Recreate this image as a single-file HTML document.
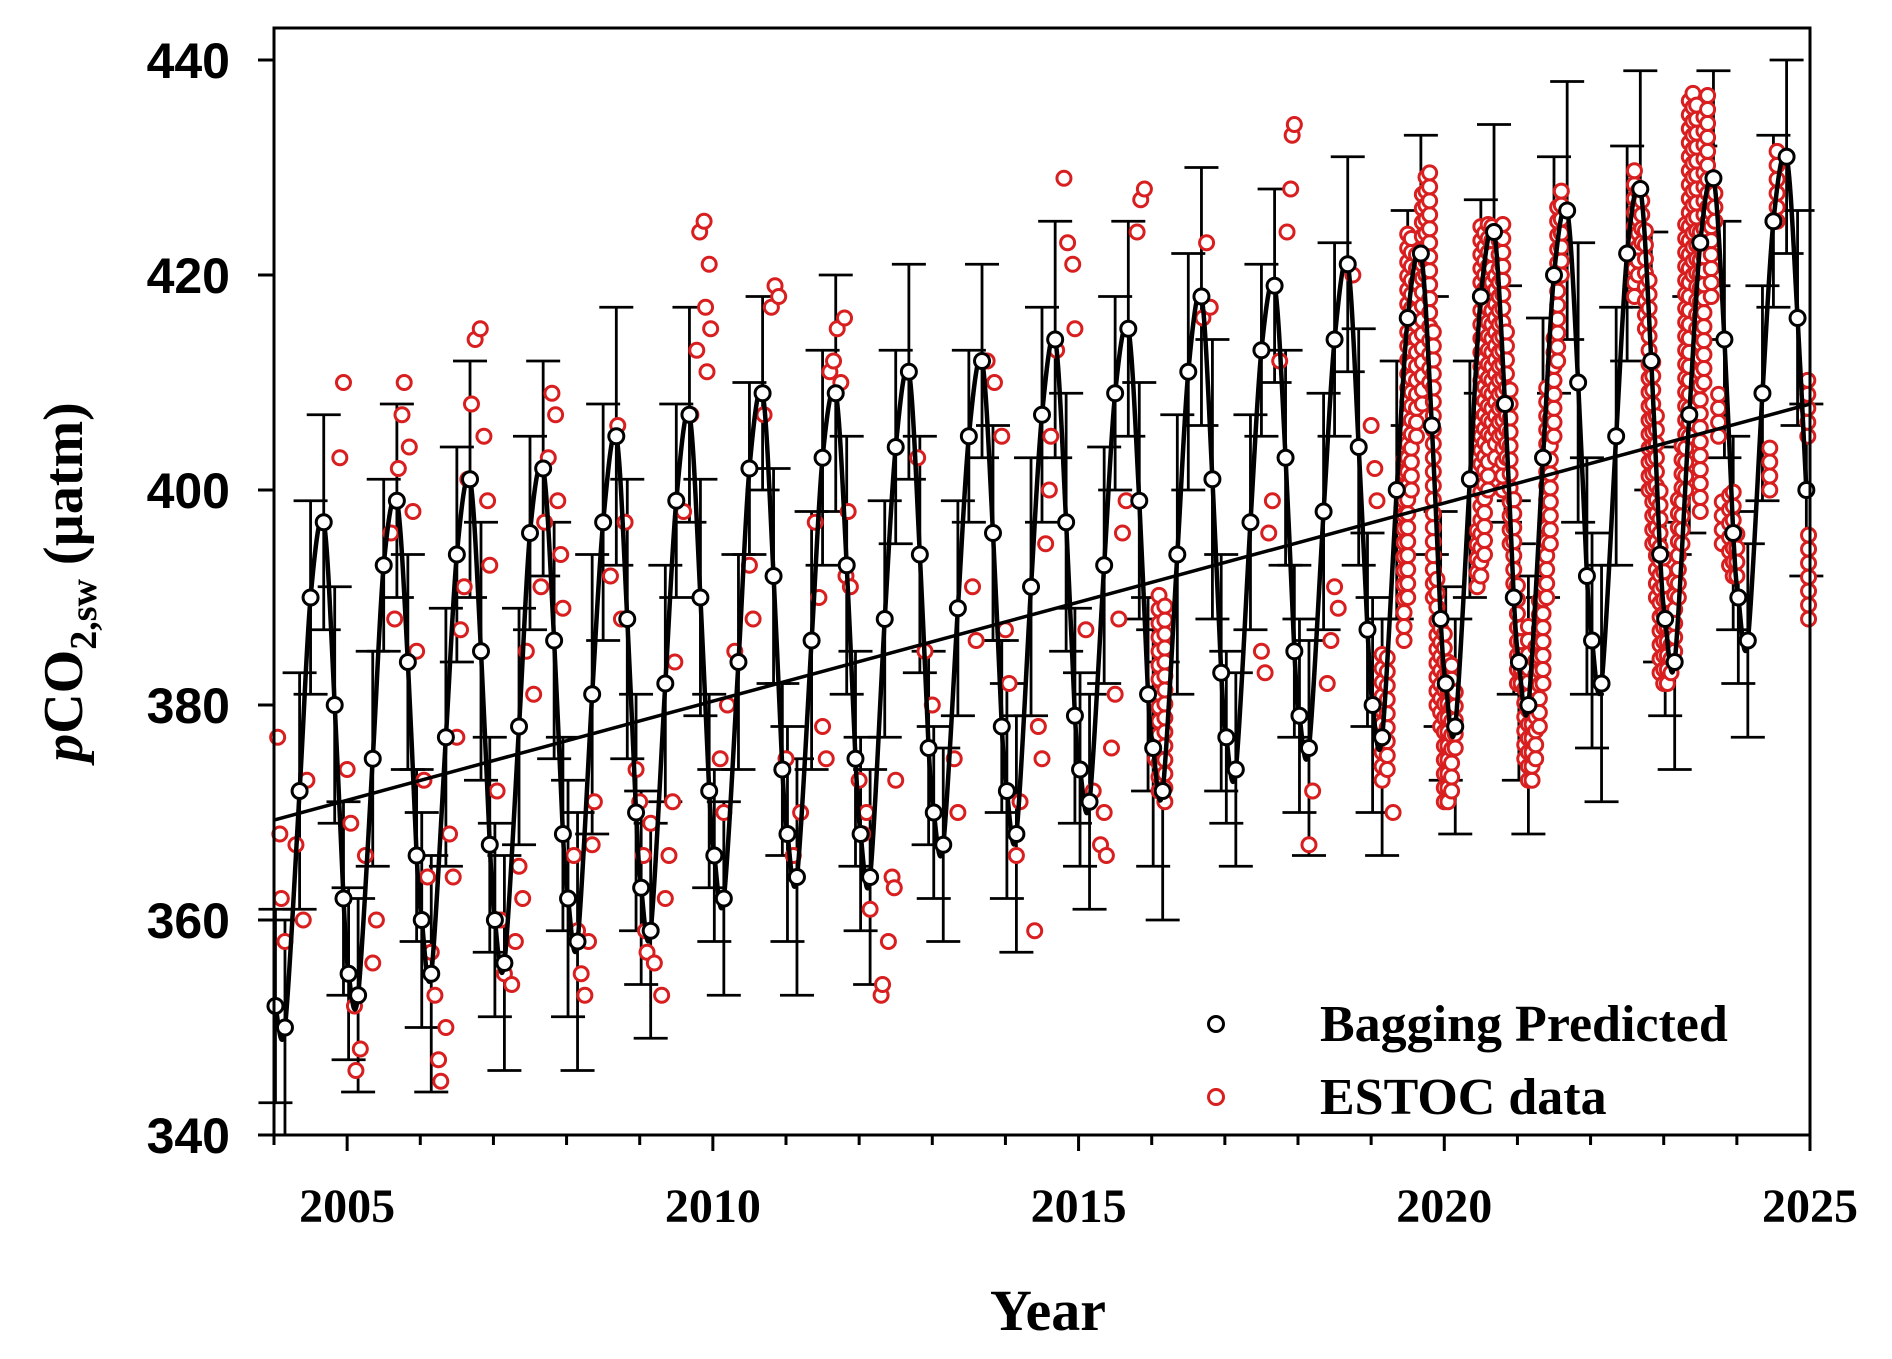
<!DOCTYPE html>
<html><head><meta charset="utf-8">
<style>
html,body{margin:0;padding:0;background:#fff;}
svg{display:block;}
text{font-family:"Liberation Serif",serif;font-weight:bold;fill:#000;}
.yt{font-family:"Liberation Sans",sans-serif;font-size:50px;}
</style></head>
<body>
<svg id="chart" width="1892" height="1359" viewBox="0 0 1892 1359" xmlns="http://www.w3.org/2000/svg">
<g id="err"></g>
<g id="red"></g>
<g id="lines"></g>
<g id="blk"></g>
<g id="axes"></g>
<g>
  <circle cx="1216" cy="1024" r="7.5" fill="#fff" stroke="#000" stroke-width="3"/>
  <text x="1320" y="1041" font-size="52">Bagging Predicted</text>
  <circle cx="1216" cy="1097" r="7.5" fill="#fff" stroke="#d81e1e" stroke-width="3"/>
  <text x="1320" y="1114" font-size="52">ESTOC data</text>
</g>
<text x="1048" y="1330" font-size="58" text-anchor="middle">Year</text>
<text transform="translate(82,582) rotate(-90)" font-size="56" text-anchor="middle"><tspan font-style="italic">p</tspan>CO<tspan font-size="38" dy="14">2,sw</tspan><tspan dy="-14"> (µatm)</tspan></text>
</svg>
<script>
const yearTicks=[2005,2010,2015,2020,2025];
const yTicks=[340,360,380,400,420,440];
const blkOffsets=[0.02,0.15,0.35,0.5,0.68,0.83,0.95];
const blkYears=[2004,2005,2006,2007,2008,2009,2010,2011,2012,2013,2014,2015,2016,2017,2018,2019,2020,2021,2022,2023,2024];
const blkVals=[
[352,350,372,390,397,380,362],[355,353,375,393,399,384,366],[360,355,377,394,401,385,367],
[360,356,378,396,402,386,368],[362,358,381,397,405,388,370],[363,359,382,399,407,390,372],
[366,362,384,402,409,392,374],[368,364,386,403,409,393,375],[368,364,388,404,411,394,376],
[370,367,389,405,412,396,378],[372,368,391,407,414,397,379],[374,371,393,409,415,399,381],
[376,372,394,411,418,401,383],[377,374,397,413,419,403,385],[379,376,398,414,421,404,387],
[380,377,400,416,422,406,388],[382,378,401,418,424,408,390],[384,380,403,420,426,410,392],
[386,382,405,422,428,412,394],[388,384,407,423,429,414,396],[390,386,409,425,431,416,400]];
const blkErr=[9,8,10,9,11,9,8,10,9,8,10,9,11,8,9,10,9,11,10,9,8];
const trendStart=[2004,369.3];
const trendEnd=[2025,408];
const redPts=[[2004.05,377],[2004.08,368],[2004.1,362],[2004.15,358],[2004.3,367],[2004.4,360],[2004.45,373],[2004.95,410],[2004.9,403],[2005.0,374],[2005.05,369],[2005.1,352],[2005.12,346],[2005.18,348],[2005.25,366],[2005.35,356],[2005.4,360],
[2005.6,396],[2005.65,388],[2005.7,402],[2005.75,407],[2005.78,410],[2005.85,404],[2005.9,398],[2005.95,385],[2006.05,373],[2006.1,364],[2006.15,357],[2006.2,353],[2006.25,347],[2006.28,345],[2006.35,350],[2006.4,368],[2006.45,364],
[2006.5,377],[2006.55,387],[2006.6,391],[2006.65,401],[2006.7,408],[2006.75,414],[2006.82,415],[2006.87,405],[2006.92,399],[2006.95,393],[2007.05,372],[2007.1,360],[2007.15,355],[2007.25,354],[2007.3,358],[2007.35,365],[2007.4,362],
[2007.45,385],[2007.55,381],[2007.65,391],[2007.7,397],[2007.75,403],[2007.8,409],[2007.85,407],[2007.88,399],[2007.92,394],[2007.95,389],[2008.1,366],[2008.15,359],[2008.2,355],[2008.25,353],[2008.3,358],[2008.35,367],[2008.38,371],
[2008.6,392],[2008.7,406],[2008.75,388],[2008.8,397],[2008.95,374],[2009.0,371],[2009.05,366],[2009.08,359],[2009.1,357],[2009.15,369],[2009.2,356],[2009.3,353],[2009.35,362],[2009.4,366],[2009.45,371],[2009.48,384],
[2009.6,398],[2009.7,407],[2009.78,413],[2009.82,424],[2009.88,425],[2009.9,417],[2009.92,411],[2009.95,421],[2009.97,415],[2010.1,375],[2010.15,370],[2010.2,380],[2010.3,385],
[2010.5,393],[2010.55,388],[2010.7,407],[2010.8,417],[2010.85,419],[2010.9,418],[2011.0,375],[2011.1,366],[2011.2,370],
[2011.4,397],[2011.45,390],[2011.5,378],[2011.55,375],[2011.6,411],[2011.65,412],[2011.7,415],[2011.75,410],[2011.8,416],[2011.82,392],[2011.85,398],[2011.88,391],[2012.0,373],[2012.05,368],[2012.1,370],[2012.15,361],[2012.3,353],[2012.32,354],[2012.4,358],[2012.45,364],[2012.48,363],[2012.5,373],
[2012.8,403],[2012.9,385],[2013.0,380],[2013.3,375],[2013.35,370],
[2013.55,391],[2013.6,386],[2013.75,412],[2013.85,410],[2013.95,405],[2014.0,387],[2014.05,382],[2014.15,366],[2014.2,371],
[2014.4,359],[2014.45,378],[2014.5,375],[2014.55,395],[2014.6,400],[2014.62,405],[2014.7,413],[2014.8,429],[2014.85,423],[2014.92,421],[2014.95,415],[2015.1,387],[2015.2,372],[2015.3,367],[2015.35,370],[2015.38,366],
[2015.45,376],[2015.5,381],[2015.55,388],[2015.6,396],[2015.65,399],[2015.8,424],[2015.85,427],[2015.9,428],[2016.05,375],
[2016.7,416],[2016.75,423],[2016.8,417],
[2017.5,385],[2017.55,383],[2017.6,396],[2017.65,399],[2017.75,412],[2017.85,424],[2017.9,428],[2017.92,433],[2017.95,434],[2018.15,367],[2018.2,372],[2018.4,382],[2018.45,386],
[2018.5,391],[2018.55,389],[2018.75,420],[2019.0,406],[2019.05,402],[2019.08,399],[2019.1,380],[2019.3,370]];
const redStrips=[[2016.1,372,391],[2016.18,371,390],
[2019.15,373,386],[2019.22,374,385],[2019.45,386,403],[2019.5,390,425],[2019.55,400,424],[2019.62,405,422],[2019.7,408,428],[2019.75,420,430],[2019.8,410,430],[2019.85,390,415],[2019.9,380,392],[2019.95,378,388],[2020.0,371,387],[2020.05,371,385],[2020.1,372,384],[2020.15,376,382],
[2020.45,391,397],[2020.5,392,425],[2020.55,394,424],[2020.6,400,426],[2020.65,405,425],[2020.7,403,420],[2020.75,405,424],[2020.8,400,426],[2020.85,403,416],[2020.9,395,410],[2020.95,390,400],[2021.0,382,392],[2021.05,382,388],[2021.1,375,385],[2021.15,373,388],[2021.2,373,380],[2021.25,375,386],[2021.3,378,390],[2021.35,382,392],[2021.4,390,410],[2021.45,395,408],[2021.5,405,415],[2021.55,412,427],[2021.6,420,428],
[2022.6,418,430],[2022.65,420,429],[2022.7,423,427],[2022.75,415,425],[2022.8,400,420],[2022.85,395,413],[2022.9,390,408],[2022.95,383,400],[2023.0,382,395],[2023.05,382,390],[2023.1,383,388],[2023.15,385,392],[2023.2,390,400],[2023.25,395,405],[2023.3,400,425],[2023.35,405,437],[2023.4,420,438],[2023.45,415,436],[2023.5,398,425],[2023.55,410,435],[2023.6,425,438],[2023.65,418,428],[2023.7,425,428],[2023.75,405,410],[2023.8,395,400],[2023.9,393,400],[2023.95,392,400],[2024.0,392,397],
[2024.45,400,404],[2024.55,425,432],[2024.97,405,411],[2024.98,388,397]];

const X0=274,X1=1810,Y0=1135,Y1=60;
const xs=t=>X0+(t-2004)*(X1-X0)/21;
const ys=v=>Y0-(v-340)*(Y0-Y1)/100;
const NS='http://www.w3.org/2000/svg';
function mk(tag,attrs,parent){const e=document.createElementNS(NS,tag);for(const k in attrs)e.setAttribute(k,attrs[k]);parent.appendChild(e);return e;}
const axes=document.getElementById('axes');
let f=mk('rect',{x:X0,y:28,width:X1-X0,height:Y0-28,fill:'none',stroke:'#000','stroke-width':3},axes);


for(let y=2004;y<=2025;y++){
  const major=yearTicks.includes(y);
  const l=mk('line',{x1:xs(y),x2:xs(y),y1:Y0,y2:Y0+(major?16:10),stroke:'#000','stroke-width':3},axes);
  
  
}
yearTicks.forEach(y=>{
  const t=mk('text',{x:xs(y),y:1222,'font-size':48,'text-anchor':'middle'},axes);t.textContent=y;
  
  
});
yTicks.forEach(v=>{
  const l=mk('line',{x1:X0-16,x2:X0,y1:ys(v),y2:ys(v),stroke:'#000','stroke-width':3},axes);
  
  
  const t=mk('text',{x:230,y:ys(v)+18,'text-anchor':'end',class:'yt'},axes);t.textContent=v;
  
  
});
// red
const red=document.getElementById('red');
function redC(t,v){const c=mk('circle',{cx:xs(t),cy:ys(v),r:7,fill:'#fff',stroke:'#d81e1e','stroke-width':3},red);
  
  }
redPts.forEach(p=>redC(p[0],p[1]));
redStrips.forEach(s=>{for(let v=s[1];v<=s[2];v+=1.3)redC(s[0],v);});
// black points
const pts=[];
blkYears.forEach((yr,i)=>blkOffsets.forEach((o,j)=>pts.push([yr+o,blkVals[i][j],blkErr[i]+(j%3)])));
const err=document.getElementById('err');
pts.forEach(p=>{
  const x=xs(p[0]),a=ys(p[1]+p[2]),b=ys(p[1]-p[2]);
  const g=mk('path',{d:`M${x},${a}V${b}M${x-17},${a}H${x+17}M${x-17},${b}H${x+17}`,stroke:'#000','stroke-width':2.8,fill:'none'},err);
  
  
});
const lines=document.getElementById('lines');
let d='M'+xs(pts[0][0])+','+ys(pts[0][1]);
for(let i=0;i<pts.length-1;i++){
  const p0=pts[Math.max(0,i-1)],p1=pts[i],p2=pts[i+1],p3=pts[Math.min(pts.length-1,i+2)];
  const c1x=xs(p1[0])+(xs(p2[0])-xs(p0[0]))/6,c1y=ys(p1[1])+(ys(p2[1])-ys(p0[1]))/6;
  const c2x=xs(p2[0])-(xs(p3[0])-xs(p1[0]))/6,c2y=ys(p2[1])-(ys(p3[1])-ys(p1[1]))/6;
  d+=`C${c1x},${c1y} ${c2x},${c2y} ${xs(p2[0])},${ys(p2[1])}`;
}
let sl=mk('path',{d:d,stroke:'#000','stroke-width':4.5,fill:'none'},lines);


let tl=mk('line',{x1:xs(trendStart[0]),y1:ys(trendStart[1]),x2:xs(trendEnd[0]),y2:ys(trendEnd[1]),stroke:'#000','stroke-width':3.5},lines);


const blk=document.getElementById('blk');
pts.forEach(p=>{const c=mk('circle',{cx:xs(p[0]),cy:ys(p[1]),r:7.5,fill:'#fff',stroke:'#000','stroke-width':3},blk);
  
  });
</script>
</body></html>
